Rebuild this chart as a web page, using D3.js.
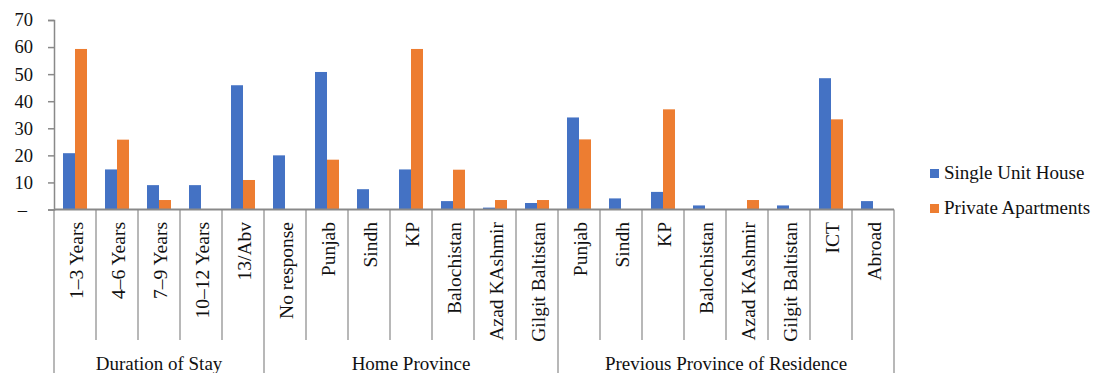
<!DOCTYPE html>
<html>
<head>
<meta charset="utf-8">
<script src="https://cdn.jsdelivr.net/npm/d3@7"></script>
<style>
  body { margin: 0; background: #fff; }
</style>
</head>
<body>
<div id="chart"></div>
<script>
// data
const groups = ['Duration of Stay', 'Home Province', 'Previous Province of Residence'];
const durationCats = ['1–3 Years', '4–6 Years', '7–9 Years', '10–12 Years', '13/Abv'];
const homeCats = ['No response', 'Punjab', 'Sindh', 'KP', 'Balochistan', 'Azad KAshmir', 'Gilgit Baltistan'];
const prevCats = ['Punjab', 'Sindh', 'KP', 'Balochistan', 'Azad KAshmir', 'Gilgit Baltistan', 'ICT', 'Abroad'];

const seriesNames = ['Single Unit House', 'Private Apartments'];
const singleUnit = [20.8, 14.8, 9, 9, 45.9, 20, 50.8, 7.5, 14.8, 3.1, 0.7, 2.4, 34, 4.1, 6.5, 1.5, 0, 1.5, 48.5, 3.1];
const privateApt = [59.3, 25.8, 3.5, 0, 10.9, 0, 18.4, 0, 59.3, 14.7, 3.5, 3.5, 25.9, 0, 37, 0, 3.5, 0, 33.3, 0];
const yTicks = [0, 10, 20, 30, 40, 50, 60, 70];
const colors = ['#4472C4', '#ED7D31'];

const W = 1098, H = 373;
const plotLeft = 54, plotRight = 894, plotTop = 20, base = 209.5;
const serif = "'Liberation Serif', 'Times New Roman', 'DejaVu Serif', serif";
const textColor = '#111';

const groupCats = [durationCats, homeCats, prevCats];
const cats = [];
groupCats.forEach((arr, g) => arr.forEach(c => cats.push({ key: g + ':' + c, label: c, group: g })));
cats.forEach((c, i) => { c.vals = [singleUnit[i], privateApt[i]]; });

const svg = d3.select('#chart').append('svg')
  .attr('width', W)
  .attr('height', H)
  .attr('font-family', serif);

const x0 = d3.scaleBand().domain(cats.map(c => c.key)).range([plotLeft, plotRight]);
const x1 = d3.scaleBand().domain(seriesNames).range([0, x0.bandwidth()]).paddingOuter(0.75);
const y = d3.scaleLinear().domain([0, 70]).range([base, plotTop]);

const axisColor = '#898989';

// y axis
const yAxis = svg.append('g')
  .attr('transform', `translate(${plotLeft},0)`)
  .call(d3.axisLeft(y).tickValues(yTicks).tickSize(6).tickPadding(15)
    .tickFormat(d => d === 0 ? '–' : d));
yAxis.attr('font-family', serif).attr('font-size', 18.5);
yAxis.select('.domain').attr('stroke', axisColor).attr('stroke-width', 1.5);
yAxis.selectAll('.tick line').attr('stroke', axisColor).attr('stroke-width', 1.5);
yAxis.selectAll('.tick text')
  .attr('fill', textColor)
  .attr('dx', d => d === 0 ? -6 : 0);

// bars
const catG = svg.selectAll('.cat')
  .data(cats)
  .enter().append('g')
  .attr('transform', d => `translate(${x0(d.key)},0)`);

catG.selectAll('rect')
  .data(d => d.vals.map((v, i) => ({ v, i })))
  .enter().append('rect')
  .attr('x', d => x1(seriesNames[d.i]))
  .attr('y', d => y(d.v))
  .attr('width', x1.bandwidth())
  .attr('height', d => base - y(d.v))
  .attr('fill', d => colors[d.i]);

// x axis baseline
svg.append('line')
  .attr('x1', plotLeft).attr('x2', plotRight)
  .attr('y1', base).attr('y2', base)
  .attr('stroke', axisColor).attr('stroke-width', 2);

// separators: inner ticks short, group borders full
const groupStarts = [];
let acc = 0;
groupCats.forEach(arr => { groupStarts.push(acc); acc += arr.length; });
cats.forEach((c, i) => {
  const xx = x0(c.key);
  const isGroupEdge = groupStarts.includes(i);
  svg.append('line')
    .attr('x1', xx).attr('x2', xx)
    .attr('y1', base).attr('y2', isGroupEdge ? H : 340)
    .attr('stroke', axisColor).attr('stroke-width', 1.2);
});
svg.append('line')
  .attr('x1', plotRight).attr('x2', plotRight)
  .attr('y1', base).attr('y2', H)
  .attr('stroke', axisColor).attr('stroke-width', 1.2);

// category labels (rotated)
svg.selectAll('.catLabel')
  .data(cats)
  .enter().append('text')
  .attr('transform', d => `translate(${x0(d.key) + x0.bandwidth() / 2 + 1},222) rotate(-90)`)
  .attr('text-anchor', 'end')
  .attr('dominant-baseline', 'central')
  .attr('font-size', 19.5)
  .attr('fill', textColor)
  .text(d => d.label);

// group labels
groups.forEach((g, gi) => {
  const first = cats[groupStarts[gi]];
  const last = cats[groupStarts[gi] + groupCats[gi].length - 1];
  const cx = (x0(first.key) + x0(last.key) + x0.bandwidth()) / 2;
  svg.append('text')
    .attr('x', cx).attr('y', 370)
    .attr('text-anchor', 'middle')
    .attr('font-size', 19)
    .attr('fill', textColor)
    .text(g);
});

// legend
const legend = svg.append('g');
seriesNames.forEach((s, i) => {
  const by = 179 + i * 35;
  legend.append('rect')
    .attr('x', 930).attr('y', by - 10)
    .attr('width', 9).attr('height', 9)
    .attr('fill', colors[i]);
  legend.append('text')
    .attr('x', 944).attr('y', by)
    .attr('font-size', 19)
    .attr('fill', textColor)
    .text(s);
});
</script>
</body>
</html>
